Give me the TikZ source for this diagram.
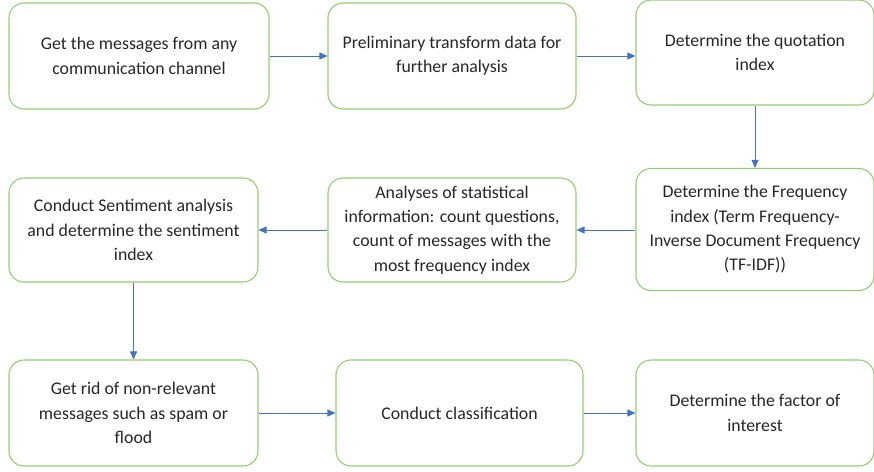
\documentclass[tikz,border=0pt]{standalone}
\usepackage{fontspec}
\setmainfont{Carlito}
\usetikzlibrary{shapes.geometric, arrows.meta}
\definecolor{boxgreen}{RGB}{150,204,110}
\definecolor{arrowblue}{RGB}{68,114,196}
\tikzstyle{stage} =
[rectangle, rounded corners=15pt, minimum width=248pt, minimum height=106pt,
text centered, align=center, draw=boxgreen, line width=1.1pt, text=black!85,
font=\fontsize{17.8}{24.3}\selectfont]
\tikzstyle{line} = [draw=arrowblue, line width=0.9pt,
-{Triangle[length=8pt,width=7pt]}]

\begin{document}
\begin{tikzpicture}[x=1pt, y=-1pt, node distance=313pt]
  \useasboundingbox (0,0) rectangle (874,471);
  % 1st row
  \node [stage, minimum width=260pt] (messages) at (139,56)
   {Get the messages from any\\communication channel};
  \node [stage, right of=messages] (transform)
   {Preliminary transform data for\\further analysis};
  \node [stage, minimum width=238pt, minimum height=105pt] (quotation)
   at (755,52.5) {Determine the quotation\\index};
  % 2nd row
  \node [stage, minimum width=238pt, minimum height=122pt] (frequency)
   at (755,229.5) {Determine the Frequency\\index (Term Frequency-\\
   Inverse Document Frequency\\(TF-IDF))};
  \node [stage, minimum height=104pt] (statistics) at (452,230)
   {Analyses of statistical\\information: count questions,\\
   count of messages with the\\most frequency index};
  \node [stage, minimum width=249pt, minimum height=104pt] (sentiment)
   at (133.5,230) {Conduct Sentiment analysis\\and determine the sentiment\\index};
  % 3rd row
  \node [stage, minimum width=249pt] (relevant) at (133.5,413)
   {Get rid of non-relevant\\messages such as spam or\\flood};
  \node [stage, minimum width=247pt, right of=relevant, node distance=326pt]
   (classification) {Conduct classification};
  \node [stage, minimum width=238pt, right of=classification,
   node distance=295.5pt] (interest) {Determine the factor of\\interest};
  % edges
  \path [line] (messages) -- (transform);
  \path [line] (transform.east) -- (transform.east -| quotation.west);
  \path [line] (quotation) -- (frequency);
  \path [line] (frequency.west |- statistics.east) -- (statistics.east);
  \path [line] (statistics) -- (sentiment);
  \path [line] (sentiment) -- (relevant);
  \path [line] (relevant) -- (classification);
  \path [line] (classification) -- (interest);
\end{tikzpicture}
\end{document}
